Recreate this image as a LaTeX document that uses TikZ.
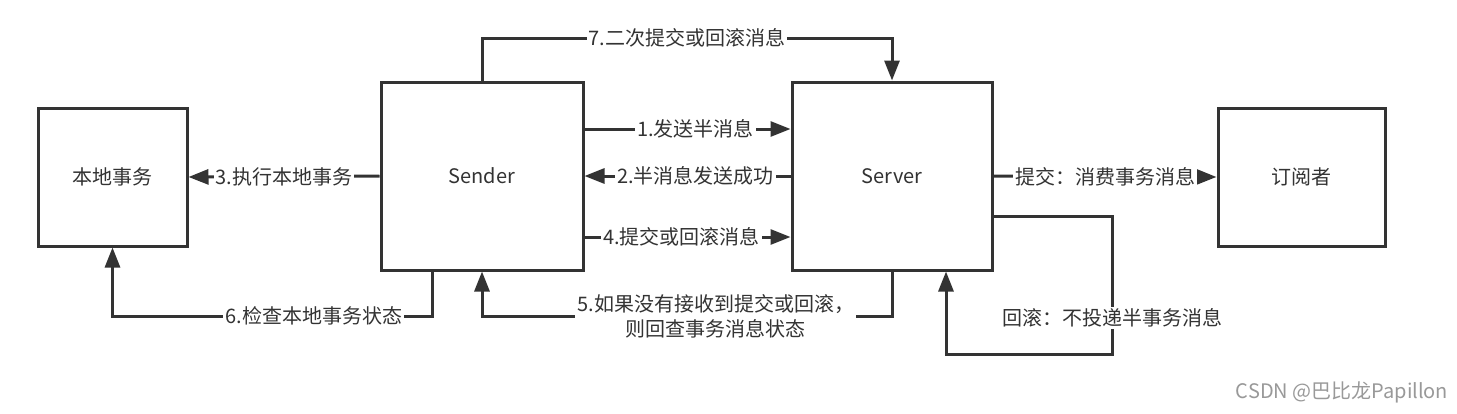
\documentclass[tikz,border=0pt]{standalone}
\usepackage{fontspec}
\setmainfont{Noto Sans CJK SC}
\usepackage{xcolor}
\usetikzlibrary{arrows.meta}
\definecolor{vdarkgray}{HTML}{333333}
\definecolor{vmark}{HTML}{999999}

\tikzset{
	box/.style={draw=vdarkgray, line width=1.5pt, minimum width=#1, inner sep=0pt},
	arr/.style={draw=vdarkgray, line width=1.5pt, -{Triangle[length=10pt, width=7.5pt]}},
	lbl/.style={fill=white, text=vdarkgray, inner sep=1pt, font=\fontsize{10pt}{12.5pt}\selectfont},
}

\begin{document}
\begin{tikzpicture}[x=0.5pt, y=-0.5pt]
		\useasboundingbox (0,0) rectangle (1457,413);
		\node[box=74.5pt, minimum height=69pt, lbl] (local) at (112.5,177) {本地事务};
		\node[box=101pt, minimum height=94pt, lbl] (sender) at (482,176) {Sender};
		\node[box=100pt, minimum height=94pt, lbl] (server) at (892,176) {Server};
		\node[box=83.5pt, minimum height=69pt, lbl] (sub) at (1301.5,177) {订阅者};
		\coordinate (c7) at (0,38);
		\coordinate (c1) at (0,129);
		\coordinate (c4) at (0,237);
		\coordinate (cr) at (0,216);
		\coordinate (cb) at (0,316);
		\coordinate (cr2) at (1112,354);
		\draw[arr] (sender.north) -- (sender.north |- c7) -- node[lbl] {7.二次提交或回滚消息} (server.north |- c7) -- (server.north);
		\draw[arr] (sender.east |- c1) -- node[lbl, xshift=4pt] {1.发送半消息} (server.west |- c1);
		\draw[arr] (server.west) -- node[lbl, xshift=4pt] {2.半消息发送成功} (sender.east);
		\draw[arr] (sender.east |- c4) -- node[lbl, xshift=-3pt] {4.提交或回滚消息} (server.west |- c4);
		\draw[arr] (sender.west) -- node[lbl] {3.执行本地事务} (local.east);
		\draw[arr] ([xshift=-25pt]sender.south) -- ([xshift=-25pt]sender.south |- cb) -- node[lbl, pos=0.37] {6.检查本地事务状态} (local.south |- cb) -- (local.south);
		\draw[arr] (server.south) -- (server.south |- cb) -- node[lbl, pos=0.43, align=center] {5.如果没有接收到提交或回滚，\\则回查事务消息状态} (sender.south |- cb) -- (sender.south);
		\draw[arr] (server.east) -- node[lbl] {提交：消费事务消息} (sub.west);
		\draw[arr] (server.east |- cr) -- (cr2 |- cr) -- node[lbl, pos=0.74] {回滚：不投递半事务消息} (cr2) -- ([xshift=27pt]server.south |- cr2) -- ([xshift=27pt]server.south);
		\node[lbl, text=vmark] (mark) at (1342,392) {CSDN @巴比龙Papillon};
	\end{tikzpicture}
\end{document}
